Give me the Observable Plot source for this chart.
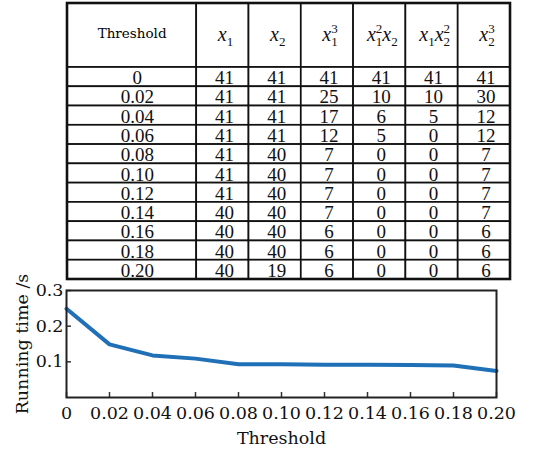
<!DOCTYPE html>
<html>
<head>
<meta charset="utf-8">
<script src="https://cdn.jsdelivr.net/npm/d3@7"></script>
<script src="https://cdn.jsdelivr.net/npm/@observablehq/plot@0.6"></script>
<style>
  html, body { margin: 0; padding: 0; background: #fff; }
  #chart { width: 540px; height: 450px; position: relative; }
  #chart svg { display: block; overflow: visible; }
</style>
</head>
<body>
<div id="chart"></div>
<script>
// ---- data ----
const thresholdLabels = ["0", "0.02", "0.04", "0.06", "0.08", "0.10", "0.12", "0.14", "0.16", "0.18", "0.20"];
const thresholdValues = [0, 0.02, 0.04, 0.06, 0.08, 0.10, 0.12, 0.14, 0.16, 0.18, 0.20];
const headers = ["Threshold", "x_1", "x_2", "x_1^3", "x_1^2x_2", "x_1x_2^2", "x_2^3"];
const colX1 = [41, 41, 41, 41, 41, 41, 41, 40, 40, 40, 40];
const colX2 = [41, 41, 41, 41, 40, 40, 40, 40, 40, 40, 19];
const colX1cube = [41, 25, 17, 12, 7, 7, 7, 7, 6, 6, 6];
const colX1sqX2 = [41, 10, 6, 5, 0, 0, 0, 0, 0, 0, 0];
const colX1X2sq = [41, 10, 5, 0, 0, 0, 0, 0, 0, 0, 0];
const colX2cube = [41, 30, 12, 12, 7, 7, 7, 7, 6, 6, 6];
const runningTime = [0.249, 0.149, 0.118, 0.109, 0.093, 0.093, 0.092, 0.092, 0.091, 0.0895, 0.0745];
const yTickValues = [0.1, 0.2, 0.3];
const yTickLabels = ["0.1", "0.2", "0.3"];
const xAxisLabel = "Threshold";
const yAxisLabel = "Running time /s";

// ---- table layout (relative units) ----
const colWidths = [2.47, 1, 1, 1, 1, 1, 1];
const headerHeight = 3.32;
const columns = [thresholdLabels, colX1, colX2, colX1cube, colX1sqX2, colX1X2sq, colX2cube];
const colEdges = [0];
colWidths.forEach(w => colEdges.push(colEdges[colEdges.length - 1] + w));
const rowEdges = [0, headerHeight];
thresholdLabels.forEach(() => rowEdges.push(rowEdges[rowEdges.length - 1] + 1));

const cells = [];
columns.forEach((col, c) => {
  cells.push({c, r: 0, text: headers[c], header: true});
  col.forEach((v, i) => cells.push({c, r: i + 1, text: String(v), header: false}));
});

const tableW = colEdges[colEdges.length - 1];
const tableH = rowEdges[rowEdges.length - 1];
const timesFont = "Liberation Serif";
const centuryFont = "DejaVu Serif";

const table = Plot.plot({
  width: 540,
  height: 284,
  marginLeft: 67,
  marginRight: 30,
  marginTop: 3,
  marginBottom: 5,
  x: {domain: [0, tableW], axis: null},
  y: {domain: [0, tableH], reverse: true, axis: null},
  style: {fontFamily: timesFont, background: "white"},
  marks: [
    Plot.rect(cells, {
      x1: d => colEdges[d.c], x2: d => colEdges[d.c + 1],
      y1: d => rowEdges[d.r], y2: d => rowEdges[d.r + 1],
      fill: "white", stroke: "#111", strokeWidth: 1.7
    }),
    Plot.rect([0], {x1: 0, x2: tableW, y1: 0, y2: tableH, fill: "none", stroke: "#111", strokeWidth: 2.6}),
    Plot.text(cells.filter(d => !d.header), {
      x: d => (colEdges[d.c] + colEdges[d.c + 1]) / 2 + (d.c === 0 ? 0.1 : 0.03),
      y: d => (rowEdges[d.r] + rowEdges[d.r + 1]) / 2,
      text: "text", fontSize: 19, fontFamily: timesFont, fill: "#111", dy: 1
    }),
    Plot.text(cells.filter(d => d.header && d.c === 0), {
      x: d => (colEdges[d.c] + colEdges[d.c + 1]) / 2,
      y: d => (rowEdges[d.r] + rowEdges[d.r + 1]) / 2,
      text: "text", fontSize: 13.5, fontFamily: centuryFont, fill: "#000", dy: -2
    }),
    Plot.text(cells.filter(d => d.header && d.c > 0), {
      x: d => (colEdges[d.c] + colEdges[d.c + 1]) / 2 + 0.05,
      y: d => (rowEdges[d.r] + rowEdges[d.r + 1]) / 2,
      text: "text", fontSize: 20, fontFamily: timesFont, fontStyle: "italic", fill: "#111", dy: -1
    })
  ]
});

// convert header strings like "x_1^2x_2" into tspans with sub/superscripts
d3.select(table).selectAll("text").each(function() {
  const s = this.textContent;
  if (!/[_^]/.test(s)) return;
  const el = d3.select(this);
  el.text("");
  const re = /([a-z])(?:_(\d))?(?:\^(\d))?/g;
  let m, shift = 0;
  while ((m = re.exec(s))) {
    el.append("tspan").attr("dy", -shift).attr("font-style", "italic").text(m[1]);
    shift = 0;
    if (m[2]) {
      el.append("tspan").attr("font-size", 13).attr("font-style", "normal").attr("dy", 5).text(m[2]);
      shift = 5;
    }
    if (m[3]) {
      const t = el.append("tspan").attr("font-size", 13).attr("font-style", "normal");
      if (m[2]) { t.attr("dx", -6.5).attr("dy", -13); shift = -8; }
      else { t.attr("dy", -8); shift = -8; }
      t.text(m[3]);
    }
  }
});

const data = thresholdValues.map((t, i) => ({t, v: runningTime[i]}));

const line = Plot.plot({
  width: 540,
  height: 166,
  marginTop: 6,
  marginBottom: 53,
  marginLeft: 66,
  marginRight: 44,
  x: {domain: [0, 0.2]},
  y: {domain: [0, 0.3]},
  style: {fontFamily: centuryFont, fontSize: "17px", color: "#111", overflow: "visible"},
  marks: [
    Plot.line(data, {x: "t", y: "v", stroke: "#1f70b6", strokeWidth: 4, strokeLinejoin: "round"}),
    Plot.axisX({ticks: thresholdValues, tickSize: -5, text: null, label: null, stroke: "#333", strokeWidth: 1.5}),
    Plot.axisX({ticks: thresholdValues, tickSize: 0, tickPadding: 9, fontSize: 17.5,
      tickFormat: d => thresholdLabels[Math.round(d / 0.02)],
      label: xAxisLabel, labelAnchor: "center", labelOffset: 46, labelArrow: "none"}),
    Plot.axisY({ticks: yTickValues, tickSize: -5, text: null, label: null, stroke: "#333", strokeWidth: 1.5}),
    Plot.axisY({ticks: yTickValues, tickSize: 0, tickPadding: 3, fontSize: 17.5,
      tickFormat: d => yTickLabels[Math.round(d * 10) - 1],
      label: yAxisLabel, labelAnchor: "center", labelOffset: 51, labelArrow: "none"}),
    Plot.frame({stroke: "#222", strokeWidth: 2})
  ]
});

const chart = document.getElementById("chart");
chart.appendChild(table);
chart.appendChild(line);
</script>
</body>
</html>
